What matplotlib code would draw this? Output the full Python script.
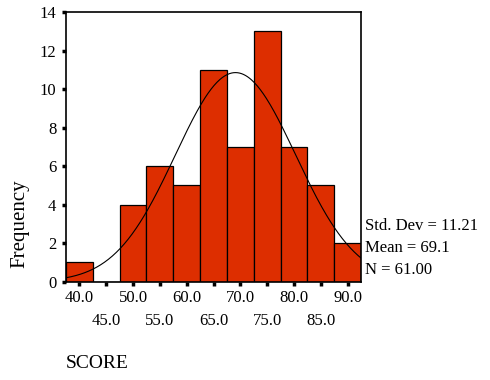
import numpy as np
import matplotlib
matplotlib.use('Agg')
import matplotlib.pyplot as plt

# histogram of SCORE (bin centers, counts)
centers = [40, 45, 50, 55, 60, 65, 70, 75, 80, 85, 90]
counts = [1, 0, 4, 6, 5, 11, 7, 13, 7, 5, 2]
mean = 69.1
std = 11.21
n = 61
bin_w = 5.0

plt.rcParams['font.family'] = ['Liberation Serif', 'DejaVu Serif']

fig = plt.figure(figsize=(4.9, 3.8), dpi=100)
ax = fig.add_axes([66/490, 1 - 281.7/380, 295/490, 269.7/380])

ax.bar(centers, counts, width=bin_w, color='#dd2e00', edgecolor='black', linewidth=0.9)

# fitted normal curve scaled to counts
lo = centers[0] - bin_w/2
hi = centers[-1] + bin_w/2
xs = np.linspace(lo, hi, 300)
ys = n * bin_w / (std * np.sqrt(2*np.pi)) * np.exp(-0.5*((xs - mean)/std)**2)
ax.plot(xs, ys, color='black', linewidth=0.8)

ax.set_xlim(lo, hi)
ax.set_ylim(0, 14)
ax.set_yticks(range(0, 15, 2))
ax.set_yticklabels([str(v) for v in range(0, 15, 2)], fontsize=12)
ax.set_xticks(centers)
ax.set_xticklabels([''] * len(centers))
ax.tick_params(axis='y', direction='out', length=3, width=2.5, pad=4)
ax.tick_params(axis='x', direction='out', length=3, width=2.5)
for s in ax.spines.values():
    s.set_linewidth(1.2)

# staggered x labels
tr = ax.get_xaxis_transform()
for i, c in enumerate(centers):
    y = -0.06 if i % 2 == 0 else -0.146
    ax.text(c, y, '%.1f' % c, transform=tr, ha='center', va='center', fontsize=12)

fig.text(66/490, 1 - 363/380, 'SCORE', ha='left', va='center', fontsize=14)
fig.text(20/490, 1 - 224/380, 'Frequency', rotation=90, ha='center', va='center', fontsize=15)

stats = ['Std. Dev = %.2f' % std, 'Mean = %.1f' % mean, 'N = %.2f' % n]
for i, s in enumerate(stats):
    fig.text(365/490, 1 - (226 + i*22)/380, s, ha='left', va='center', fontsize=12)

fig.savefig('out.png', dpi=100)
